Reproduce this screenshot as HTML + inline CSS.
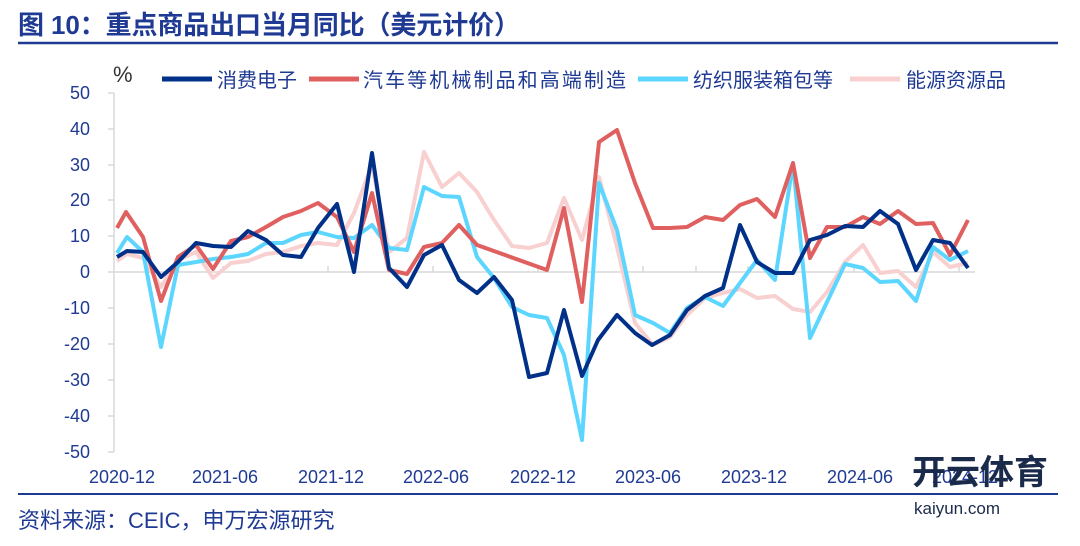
<!DOCTYPE html>
<html><head><meta charset="utf-8"><style>
body{margin:0;width:1080px;height:541px;background:#fff;overflow:hidden;font-family:"Liberation Sans","Noto Sans CJK SC",sans-serif}
</style></head><body>
<svg width="1080" height="541" xmlns="http://www.w3.org/2000/svg" style="font-family:'Liberation Sans','Noto Sans CJK SC',sans-serif">
<text x="18" y="34" font-size="26" font-weight="bold" fill="#1F3A93" textLength="502">图 10：重点商品出口当月同比（美元计价）</text>
<line x1="18" y1="43" x2="1058" y2="43" stroke="#1F3A93" stroke-width="2.5"/>
<line x1="18" y1="494" x2="1058" y2="494" stroke="#1F3A93" stroke-width="2"/>
<text x="18" y="528" font-size="22" fill="#1F3A93">资料来源：CEIC，申万宏源研究</text>
<text x="113" y="82" font-size="22" fill="#333">%</text>
<g font-size="20" fill="#1F3A93">
<line x1="162" y1="79" x2="212" y2="79" stroke="#003087" stroke-width="5"/><text x="217" y="87">消费电子</text>
<line x1="309" y1="79" x2="359" y2="79" stroke="#E06060" stroke-width="5"/><text x="363" y="87" textLength="263">汽车等机械制品和高端制造</text>
<line x1="638" y1="79" x2="688" y2="79" stroke="#5CD6FF" stroke-width="5"/><text x="693" y="87">纺织服装箱包等</text>
<line x1="850" y1="79" x2="900" y2="79" stroke="#F8D0D0" stroke-width="5"/><text x="906" y="87">能源资源品</text>
</g>
<g stroke="#d9d9d9" stroke-width="1.5">
<line x1="114" y1="93" x2="114" y2="452"/>
<line x1="114" y1="272" x2="975" y2="272"/>
<line x1="108" y1="93" x2="114" y2="93"/><line x1="108" y1="129" x2="114" y2="129"/><line x1="108" y1="165" x2="114" y2="165"/><line x1="108" y1="200" x2="114" y2="200"/><line x1="108" y1="236" x2="114" y2="236"/><line x1="108" y1="272" x2="114" y2="272"/><line x1="108" y1="308" x2="114" y2="308"/><line x1="108" y1="344" x2="114" y2="344"/><line x1="108" y1="380" x2="114" y2="380"/><line x1="108" y1="416" x2="114" y2="416"/><line x1="108" y1="452" x2="114" y2="452"/>
<line x1="223" y1="266" x2="223" y2="272"/><line x1="328" y1="266" x2="328" y2="272"/><line x1="433" y1="266" x2="433" y2="272"/><line x1="538" y1="266" x2="538" y2="272"/><line x1="643" y1="266" x2="643" y2="272"/><line x1="696" y1="266" x2="696" y2="272"/><line x1="748" y1="266" x2="748" y2="272"/><line x1="854" y1="266" x2="854" y2="272"/><line x1="959" y1="266" x2="959" y2="272"/>
</g>
<g font-size="18" fill="#1F3A93" text-anchor="end">
<text x="90" y="99">50</text><text x="90" y="135">40</text><text x="90" y="171">30</text><text x="90" y="206">20</text><text x="90" y="242">10</text><text x="90" y="278">0</text><text x="90" y="314">-10</text><text x="90" y="350">-20</text><text x="90" y="386">-30</text><text x="90" y="422">-40</text><text x="90" y="458">-50</text>
</g>
<g font-size="18" fill="#1F3A93" text-anchor="middle">
<text x="122" y="483">2020-12</text><text x="225" y="483">2021-06</text><text x="331" y="483">2021-12</text><text x="436" y="483">2022-06</text><text x="543" y="483">2022-12</text><text x="648" y="483">2023-06</text><text x="754" y="483">2023-12</text><text x="860" y="483">2024-06</text><text x="965" y="483">2024-12</text>
</g>
<g fill="none" stroke-width="4" stroke-linejoin="round">
<polyline stroke="#F8D0D0" points="117,261 127,254 143,258 161,287 178,260 196,252 213,278 231,263 248,261 266,254 283,252 301,246 318,243 337,245 354,213 372,165 389,252 407,238 424,152 442,187 459,173 477,192 494,220 512,246 529,248 547,243 564,198 582,240 599,177 617,247 635,323 653,345 670,337 687,315 705,298 723,293 740,289 757,298 775,296 793,309 810,312 827,292 845,262 863,245 880,273 898,271 916,287 933,252 950,267 968,263"/>
<polyline stroke="#5CD6FF" points="117,253 127,237 143,252 161,347 178,265 196,262 213,259 231,257 248,254 266,243 283,243 301,235 318,232 337,237 354,238 372,225 389,248 407,250 424,187 442,196 459,197 477,257 494,278 512,307 529,315 547,318 564,355 582,440 599,183 617,230 635,315 653,323 670,333 687,308 705,297 723,306 740,283 757,260 775,280 793,163 810,338 827,302 845,264 863,268 880,282 898,281 916,301 933,247 950,260 968,251"/>
<polyline stroke="#E06060" points="117,228 126,212 143,237 161,301 178,257 196,245 213,269 231,241 248,237 266,227 283,217 301,211 318,203 337,217 354,252 372,193 389,270 407,274 424,247 442,243 459,225 477,245 547,270 564,208 582,302 599,142 617,130 635,183 653,228 670,228 687,227 705,217 723,220 740,205 757,199 775,217 793,163 810,258 827,227 845,227 863,217 880,224 898,211 916,224 933,223 950,255 968,220"/>
<polyline stroke="#003087" points="117,257 127,251 143,252 161,277 178,262 196,243 213,246 231,247 248,231 266,240 283,255 301,257 318,228 337,204 354,272 372,153 389,268 407,287 424,255 442,245 459,280 477,293 494,277 512,300 529,377 547,373 564,310 582,376 598,340 617,315 635,333 652,345 670,335 687,310 705,296 723,288 740,225 757,262 775,273 793,273 810,240 827,235 845,226 863,227 880,211 898,224 916,270 933,240 950,243 968,268"/>
</g>
<text x="912" y="484" font-size="34" font-weight="bold" fill="#1a2a4a">开云体育</text>
<text x="914" y="514" font-size="17" fill="#1a2a4a">kaiyun.com</text>
</svg>
</body></html>
